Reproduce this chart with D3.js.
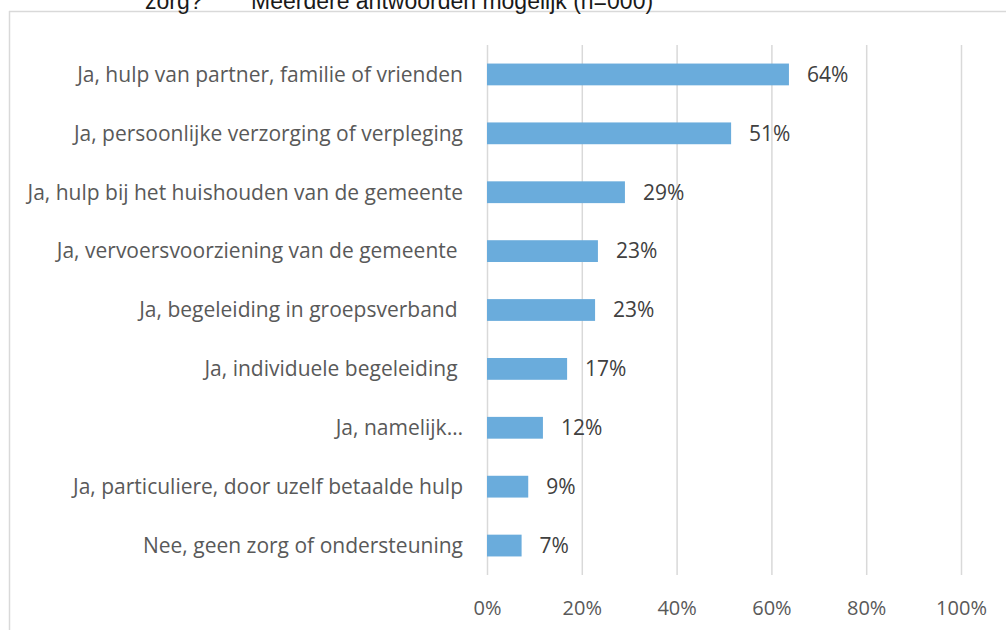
<!DOCTYPE html>
<html>
<head>
<meta charset="utf-8">
<script src="https://cdn.jsdelivr.net/npm/d3@7"></script>
<style>
  html, body { margin: 0; padding: 0; background: #fff; }
  svg { display: block; }
</style>
</head>
<body>
<svg id="chart" width="1007" height="630"></svg>
<script>
const categories = [
  "Ja, hulp van partner, familie of vrienden",
  "Ja, persoonlijke verzorging of verpleging",
  "Ja, hulp bij het huishouden van de gemeente",
  "Ja, vervoersvoorziening van de gemeente ",
  "Ja, begeleiding in groepsverband ",
  "Ja, individuele begeleiding ",
  "Ja, namelijk…",
  "Ja, particuliere, door uzelf betaalde hulp",
  "Nee, geen zorg of ondersteuning"
];
const values = [0.637, 0.515, 0.291, 0.234, 0.228, 0.169, 0.118, 0.087, 0.073];
const valueLabels = ["64%", "51%", "29%", "23%", "23%", "17%", "12%", "9%", "7%"];
const xTicks = [0, 0.2, 0.4, 0.6, 0.8, 1.0];
const titleParts = ["zorg?", "Meerdere antwoorden mogelijk (n=000)"];

(function () {
const svg = d3.select("#chart");
const FONT = "'Open Sans', sans-serif";

// outer frame (partially visible)
svg.append("line").attr("x1", 9).attr("x2", 1006).attr("y1", 11.5).attr("y2", 11.5)
  .attr("stroke", "#d9d9d9").attr("stroke-width", 1.5);
svg.append("line").attr("x1", 9.5).attr("x2", 9.5).attr("y1", 11).attr("y2", 630)
  .attr("stroke", "#d9d9d9").attr("stroke-width", 1.5);

// clipped title
svg.append("text").attr("x", 145).attr("y", 9)
  .attr("font-family", "'Liberation Sans', Arial, sans-serif").attr("font-size", 23)
  .attr("fill", "#1a1a1a").text(titleParts[0]);
svg.append("text").attr("x", 251).attr("y", 9)
  .attr("font-family", "'Liberation Sans', Arial, sans-serif").attr("font-size", 23)
  .attr("fill", "#1a1a1a").text(titleParts[1]);

const plotTop = 45, plotBottom = 575, plotLeft = 487, plotRight = 961;

const x = d3.scaleLinear().domain([0, 1]).range([plotLeft, plotRight]);
const y = d3.scaleBand().domain(categories).range([plotTop, plotBottom])
  .paddingInner(0.63).paddingOuter(0.315);

// gridlines + x tick labels
const xAxis = svg.append("g").attr("transform", `translate(0,${plotBottom})`)
  .call(d3.axisBottom(x).tickValues(xTicks).tickFormat(d3.format(".0%"))
    .tickSize(-(plotBottom - plotTop)).tickPadding(0));
xAxis.select(".domain").remove();
xAxis.selectAll(".tick line").attr("stroke", "#d9d9d9").attr("stroke-width", 1.5);
xAxis.selectAll(".tick text").attr("font-family", FONT).attr("font-size", 20)
  .attr("fill", "#595959").attr("y", 40).attr("dy", 0);

// bars
svg.append("g").selectAll("rect").data(categories).join("rect")
  .attr("x", x(0))
  .attr("y", d => y(d))
  .attr("width", (d, i) => x(values[i]) - x(0))
  .attr("height", y.bandwidth())
  .attr("fill", "#6aacdc");

// value labels
svg.append("g").selectAll("text").data(categories).join("text")
  .attr("x", (d, i) => x(values[i]) + 18)
  .attr("y", d => y(d) + y.bandwidth() / 2)
  .attr("dy", "0.35em")
  .attr("font-family", FONT).attr("font-size", 21).attr("fill", "#404040")
  .text((d, i) => valueLabels[i]);

// category axis
const yAxis = svg.append("g").attr("transform", `translate(${plotLeft},0)`)
  .call(d3.axisLeft(y).tickSize(0).tickPadding(24));
yAxis.select(".domain").remove();
yAxis.selectAll(".tick text").attr("font-family", FONT).attr("font-size", 21)
  .attr("fill", "#595959").attr("dy", "0.35em").style("white-space", "pre");
})();
</script>
</body>
</html>
